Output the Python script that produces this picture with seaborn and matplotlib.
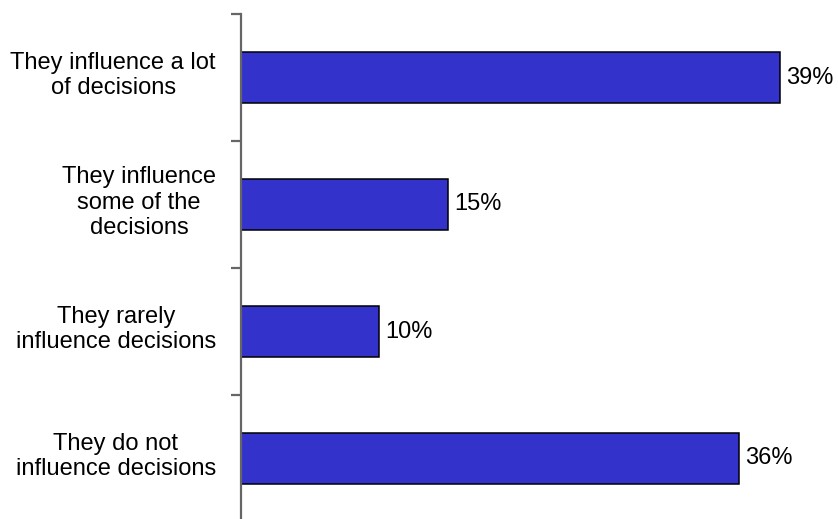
import matplotlib
matplotlib.use("Agg")
import matplotlib.pyplot as plt
import matplotlib.transforms as mtransforms
import seaborn as sns
import pandas as pd
from matplotlib.ticker import FixedLocator

categories = [
    "They influence a lot\nof decisions",
    "They influence\nsome of the\ndecisions",
    "They rarely\ninfluence decisions",
    "They do not\ninfluence decisions",
]
values = [39, 15, 10, 36]

sns.set_style("white")
plt.rcParams["font.family"] = ["Liberation Sans", "DejaVu Sans"]
plt.rcParams["text.color"] = "black"

df = pd.DataFrame({"answer": categories, "share": values})

fig = plt.figure(figsize=(8.38, 5.19), dpi=100)
ax = fig.add_axes([241 / 838, -3 / 519, (794 - 241) / 838, (522 - 14) / 519])

sns.barplot(data=df, y="answer", x="share", orient="h", color="#3333CC",
            edgecolor="black", linewidth=1.1, width=0.4, saturation=1, ax=ax)

ax.set_xlim(0, 40)
ax.set_ylim(len(categories) - 0.5, -0.5)
ax.set_xlabel("")
ax.set_ylabel("")
ax.set_xticks([])

for s in ["top", "right", "bottom"]:
    ax.spines[s].set_visible(False)
ax.spines["left"].set_color("#666666")
ax.spines["left"].set_linewidth(1.6)

# category labels at bar centres, tick marks at category boundaries
ax.yaxis.set_minor_locator(FixedLocator([i - 0.5 for i in range(len(categories) + 1)]))
ax.tick_params(axis="y", which="major", length=0, pad=18, labelsize=17,
               labelcolor="black")
ax.tick_params(axis="y", which="minor", left=True, length=7, width=1.6, color="#666666")
lift = mtransforms.ScaledTranslation(0, 0.06, fig.dpi_scale_trans)
for lbl in ax.get_yticklabels():
    lbl.set_multialignment("center")
    lbl.set_transform(lbl.get_transform() + lift)

for i, v in enumerate(values):
    ax.annotate(f"{v}%", xy=(v, i), xytext=(4.5, 0), textcoords="offset points",
                va="center", ha="left", fontsize=17, color="black")

fig.savefig("out.png", dpi=100)
